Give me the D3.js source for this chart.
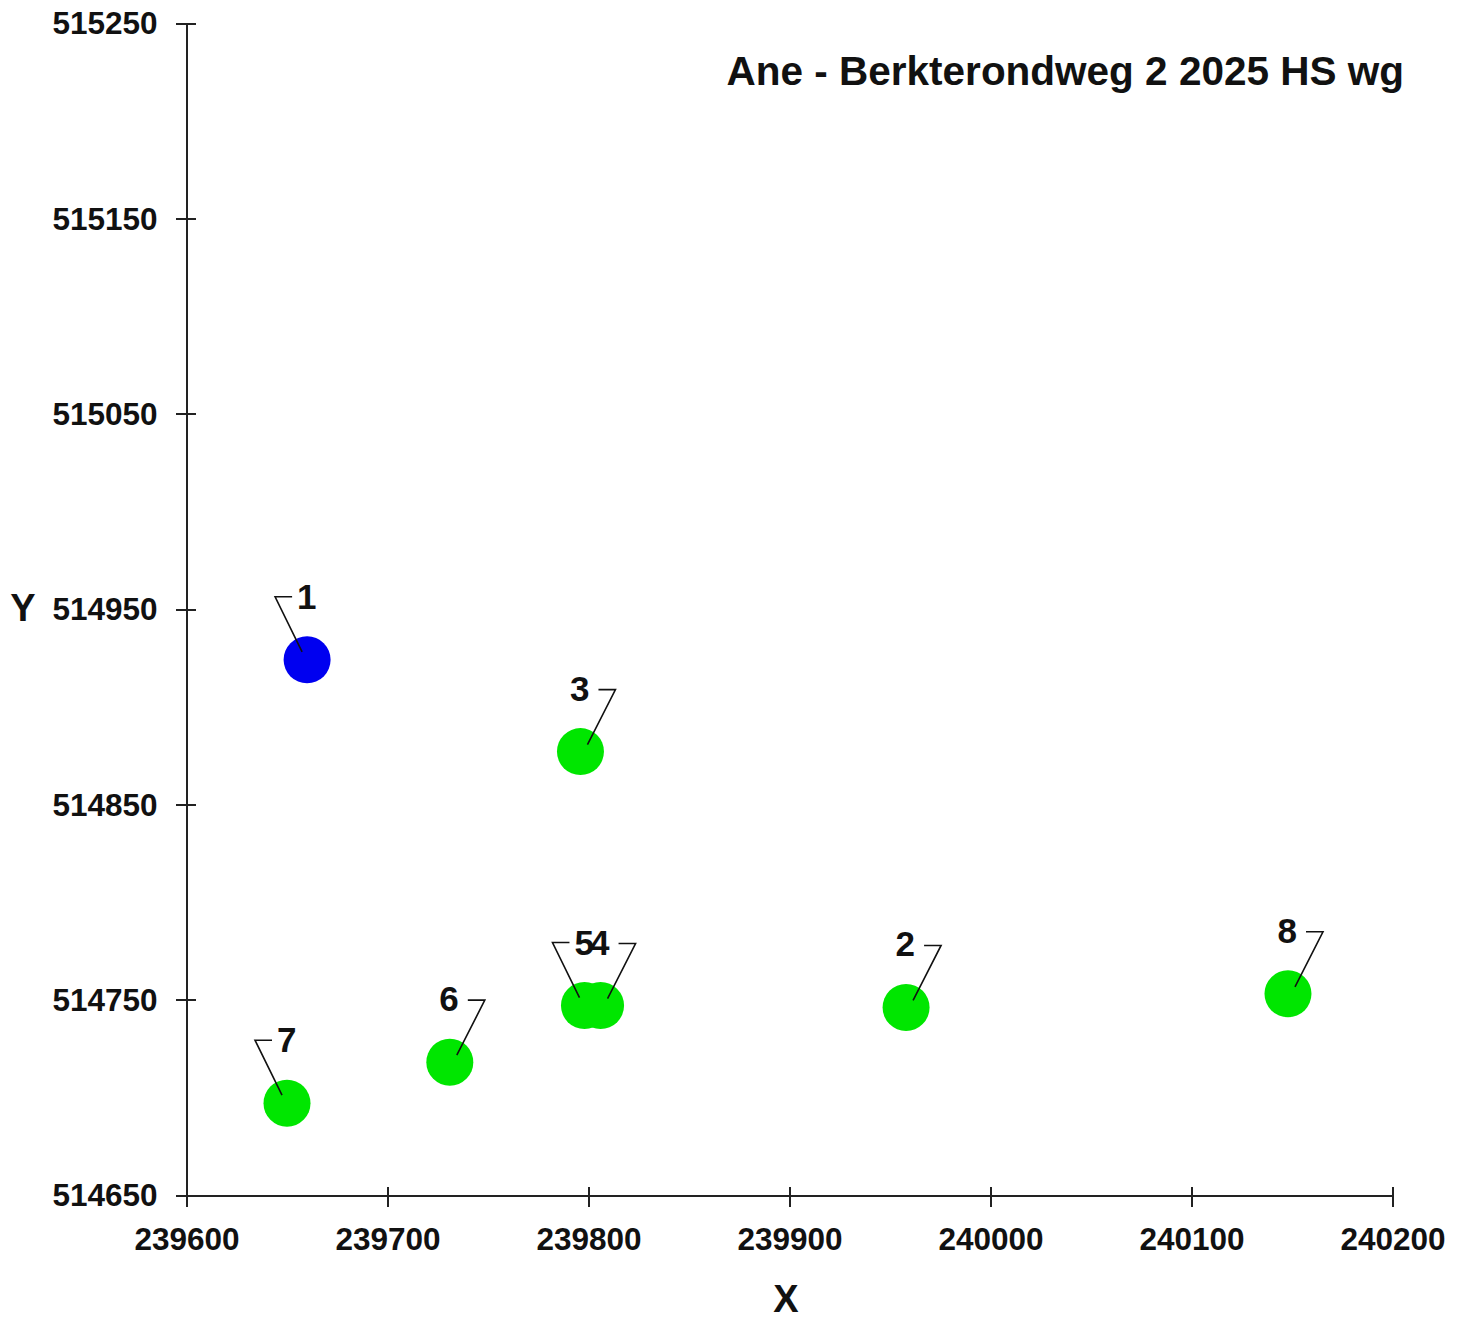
<!DOCTYPE html>
<html>
<head>
  <meta charset="utf-8">
  <title>Ane - Berkterondweg 2 2025 HS wg</title>
  <script src="https://d3js.org/d3.v7.min.js"></script>
  <style>
    body { margin: 0; background: #fff; }
    text { font-family: "Liberation Sans", Arial, sans-serif; font-weight: bold; fill: #111; }
    .axis path, .axis line { stroke: #222; stroke-width: 2; shape-rendering: crispEdges; }
    .axis text { font-size: 31.5px; }
  </style>
</head>
<body>
<script>
  // point data
  var pointIds = ["1", "2", "3", "4", "5", "6", "7", "8"];
  var pointX = [239660, 239958, 239796, 239806, 239798, 239731, 239650, 240148];
  var pointY = [514924, 514746, 514877, 514747, 514747, 514718, 514697, 514753];
  var pointKind = ["bron", "punt", "punt", "punt", "punt", "punt", "punt", "punt"];

  var xTicks = [239600, 239700, 239800, 239900, 240000, 240100, 240200];
  var yTicks = [514650, 514750, 514850, 514950, 515050, 515150, 515250];
  var title = "Ane - Berkterondweg 2 2025 HS wg";

  var w = 1466, h = 1321;

  var svg = d3.select("body").append("svg")
    .attr("width", w)
    .attr("height", h);

  var xScale = d3.scaleLinear().domain([239600, 240200]).range([186.5, 1392.5]);
  var yScale = d3.scaleLinear().domain([514650, 515250]).range([1195, 23]);
  var colour = d3.scaleOrdinal().domain(["bron", "punt"]).range(["#0000f0", "#00e600"]);

  // axes
  var xAxis = d3.axisBottom(xScale).tickValues(xTicks).tickFormat(d3.format("d"))
    .tickSizeInner(12).tickSizeOuter(0);
  var gx = svg.append("g").attr("class", "axis")
    .attr("transform", "translate(0," + yScale(514650) + ")")
    .call(xAxis);
  gx.selectAll(".tick line").attr("y1", -8);
  gx.selectAll(".tick text").attr("y", 33).attr("fill", "#111");

  var yAxis = d3.axisLeft(yScale).tickValues(yTicks).tickFormat(d3.format("d"))
    .tickSizeInner(11).tickSizeOuter(0);
  var gy = svg.append("g").attr("class", "axis")
    .attr("transform", "translate(" + xScale(239600) + ",0)")
    .call(yAxis);
  gy.selectAll(".tick line").attr("x1", 9);
  gy.selectAll(".tick text").attr("x", -29).attr("dy", "0.34em").attr("fill", "#111");

  // axis titles and chart title
  svg.append("text").attr("x", 786).attr("y", 1312)
    .attr("text-anchor", "middle").attr("font-size", "38px").text("X");
  svg.append("text").attr("x", 23).attr("y", 621)
    .attr("text-anchor", "middle").attr("font-size", "38px").text("Y");
  svg.append("text").attr("x", 1404).attr("y", 85)
    .attr("text-anchor", "end").attr("font-size", "40.5px").text(title);

  var points = pointIds.map(function(id, i) {
    return { id: id, x: pointX[i], y: pointY[i], kind: pointKind[i] };
  });

  svg.selectAll("circle.pt")
    .data(points)
    .enter()
    .append("circle")
    .attr("class", "pt")
    .attr("cx", function(d) { return xScale(d.x); })
    .attr("cy", function(d) { return yScale(d.y); })
    .attr("r", 23.5)
    .attr("fill", function(d) { return colour(d.kind); });

  // labels with leader lines, some sit left of the point
  var leftLabels = ["1", "5", "7"];

  var labels = svg.selectAll("g.lab")
    .data(points)
    .enter()
    .append("g")
    .attr("class", "lab")
    .attr("transform", function(d) {
      return "translate(" + xScale(d.x) + "," + yScale(d.y) + ")";
    });

  labels.append("polyline")
    .attr("fill", "none")
    .attr("stroke", "#111")
    .attr("stroke-width", 1.6)
    .attr("points", function(d) {
      if (leftLabels.indexOf(d.id) >= 0) return "-5,-8 -32,-63 -15,-63";
      return "7,-7 35,-62 18,-62";
    });

  labels.append("text")
    .attr("font-size", "35px")
    .attr("x", function(d) { return leftLabels.indexOf(d.id) >= 0 ? -10 : 9; })
    .attr("y", -51)
    .attr("text-anchor", function(d) { return leftLabels.indexOf(d.id) >= 0 ? "start" : "end"; })
    .text(function(d) { return d.id; });
</script>
</body>
</html>
